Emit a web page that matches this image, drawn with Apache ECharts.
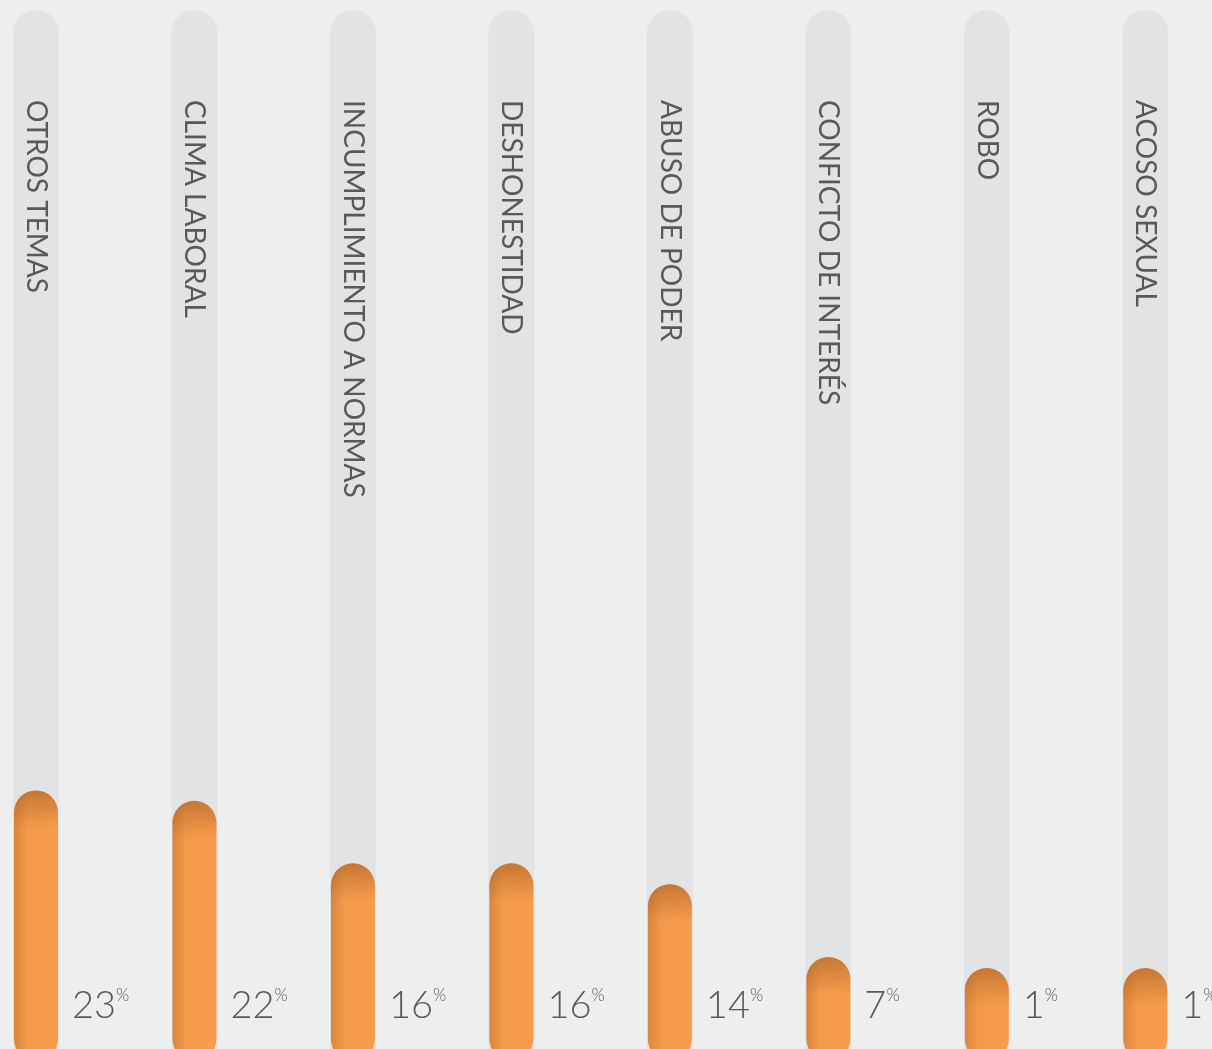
<!DOCTYPE html>
<html>
<head>
<meta charset="utf-8">
<script src="https://cdn.jsdelivr.net/npm/echarts@6.0.0/dist/echarts.min.js"></script>
<style>
  html, body { margin: 0; padding: 0; background: #edeeee; }
  #chart { width: 1212px; height: 1049px; }
</style>
</head>
<body>
<div id="chart"></div>
<script>
var categories = ['OTROS TEMAS', 'CLIMA LABORAL', 'INCUMPLIMIENTO A NORMAS', 'DESHONESTIDAD',
  'ABUSO DE PODER', 'CONFICTO DE INTERÉS', 'ROBO', 'ACOSO SEXUAL']
var percents = [23, 22, 16, 16, 14, 7, 1, 1]

// axis extents (the picture shows only part of the scale)
var X_MIN = -0.227
var X_MAX = 7.421
var Y_MIN = -1.82
var Y_MAX = 97.9
var MIN_H = 81

var chart = echarts.init(document.getElementById('chart'))

function renderItem (params, api) {
  var i = api.value(0)
  var v = api.value(1)
  var top = api.coord([i, v])
  var base = api.coord([i, Y_MIN])
  var ceil = api.coord([i, Y_MAX])
  var zero = api.coord([i, 0])[1]
  var cx = top[0]
  var tw = 46
  var bw = 44
  var y0 = Math.min(top[1], base[1] - MIN_H)
  var y1 = base[1] + 12
  return {
    type: 'group',
    children: [
      {
        type: 'rect',
        shape: { x: cx - tw / 2, y: ceil[1], width: tw, height: y1 - ceil[1] + 20, r: [23, 23, 0, 0] },
        style: { fill: '#e2e3e4' }
      },
      {
        type: 'rect',
        shape: { x: cx - bw / 2, y: y0, width: bw, height: y1 - y0, r: bw / 2 },
        style: {
          fill: new echarts.graphic.LinearGradient(0, 0, 1, 0, [
            { offset: 0, color: '#d8853d' },
            { offset: 0.3, color: '#f39a4b' },
            { offset: 1, color: '#f89c4c' }
          ])
        }
      },
      {
        type: 'rect',
        shape: { x: cx - bw / 2, y: y0, width: bw, height: 38, r: [bw / 2, bw / 2, 0, 0] },
        style: {
          fill: new echarts.graphic.LinearGradient(0, 0, 0, 1, [
            { offset: 0, color: 'rgba(160,90,35,0.55)' },
            { offset: 1, color: 'rgba(160,90,35,0)' }
          ])
        }
      },
      {
        type: 'text',
        x: cx,
        y: ceil[1] + 90,
        rotation: -Math.PI / 2,
        style: {
          text: categories[i],
          fill: '#58595b',
          fontSize: 28,
          fontFamily: 'Lato',
          align: 'left',
          textAlign: 'left',
          verticalAlign: 'middle',
          textVerticalAlign: 'middle'
        }
      },
      {
        type: 'text',
        x: cx + tw / 2 + 13,
        y: zero - 24,
        style: {
          text: '{n|' + v + '}{p|%}',
          align: 'left',
          verticalAlign: 'middle',
          rich: {
            n: { fontSize: 38, fontFamily: 'Lato', fontWeight: 300, fill: '#58595b', color: '#58595b', lineHeight: 38, verticalAlign: 'bottom' },
            p: { fontSize: 17, fontFamily: 'Lato', fontWeight: 300, fill: '#58595b', color: '#58595b', lineHeight: 17, verticalAlign: 'top' }
          }
        }
      }
    ]
  }
}

chart.setOption({
  backgroundColor: '#edeeee',
  animation: false,
  grid: { left: 0, right: 0, top: 10, bottom: 0 },
  xAxis: { type: 'value', min: X_MIN, max: X_MAX, show: false },
  yAxis: { type: 'value', min: Y_MIN, max: Y_MAX, show: false },
  series: [{
    type: 'custom',
    clip: false,
    renderItem: renderItem,
    data: percents.map(function (p, i) { return [i, p] })
  }]
})
</script>
</body>
</html>
